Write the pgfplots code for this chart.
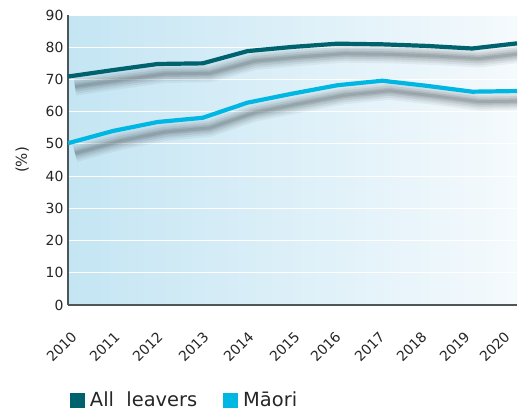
\documentclass[border=0pt]{standalone}
\usepackage{pgfplots}
\pgfplotsset{compat=1.18}
\usepackage{fontspec}
\setmainfont{DejaVu Sans}
\definecolor{allc}{HTML}{00626C}
\definecolor{maoric}{HTML}{00B6E2}
\definecolor{axc}{HTML}{505558}
\definecolor{bgl}{HTML}{C4E5F3}
\definecolor{bgr}{HTML}{F5FAFD}
\definecolor{shc}{HTML}{5A666C}
\pgfplotstableread{
year all maori
2010 70.9 50.2
2011 72.9 54.0
2012 74.8 56.8
2013 75.0 58.1
2014 78.8 62.8
2015 80.1 65.6
2016 81.1 68.2
2017 80.9 69.6
2018 80.4 68.0
2019 79.6 66.2
2020 81.2 66.4
}\datatable
\begin{document}
\begin{tikzpicture}
\begin{axis}[
  name=ax,
  scale only axis,
  width=449bp, height=290bp,
  xmin=2010, xmax=2020, ymin=0, ymax=90,
  xtick={2010.000,2010.958,2011.915,2012.940,2013.942,2014.967,2015.880,2016.860,2017.795,2018.753,2019.644},
  xticklabels={2010,2011,2012,2013,2014,2015,2016,2017,2018,2019,2020},
  ytick={0,10,...,90},
  axis x line*=bottom, axis y line*=left,
  axis line style={axc, line width=2.4bp, -},
  major tick length=0pt,
  ymajorgrids, grid style={white, line width=1.2bp},
  axis background/.style={left color=bgl, right color=bgr},
  /pgf/number format/assume math mode=true,
  /pgf/number format/1000 sep={},
  tick label style={font=\fontsize{14}{16}\selectfont, text=black!85},
  xticklabel style={rotate=45, anchor=east, xshift=-12.9bp, yshift=-25bp},
  yticklabel style={xshift=-1bp},
  ylabel={(\%)}, ylabel shift=10bp,
  ylabel style={font=\fontsize{15}{17}\selectfont, text=black!85},
  legend columns=2,
  legend style={at={(0.004,-0.328)}, anchor=west, draw=none, fill=none,
    font=\fontsize{19.5}{22}\selectfont, text=black!85, inner sep=0pt,
    /tikz/every odd column/.append style={column sep=3bp},
    /tikz/every even column/.append style={column sep=24bp}},
  legend image code/.code={\path[#1] (0bp,-7.5bp) rectangle (15bp,7.5bp);},
]
% shadows
\foreach \w/\o in {18/0.08, 14/0.10, 10/0.14, 6/0.18, 3/0.2} {
  \edef\tmp{\noexpand\addplot[forget plot, shc, opacity=\o, line width=\w bp, line join=round, xshift=7bp, yshift=-10bp] table[x=year,y=all] {\noexpand\datatable};}\tmp
  \edef\tmp{\noexpand\addplot[forget plot, shc, opacity=\o, line width=\w bp, line join=round, xshift=7bp, yshift=-10bp] table[x=year,y=maori] {\noexpand\datatable};}\tmp
}
\addplot[forget plot, allc, line width=4.2bp, line join=round] table[x=year,y=all] {\datatable};
\addplot[forget plot, maoric, line width=4.2bp, line join=round] table[x=year,y=maori] {\datatable};
\addlegendimage{fill=allc, draw=none}
\addlegendentry{All\ \ leavers}
\addlegendimage{fill=maoric, draw=none}
\addlegendentry{Māori}
\end{axis}
\pgfresetboundingbox
\path[use as bounding box] ([xshift=-68bp,yshift=-108bp]ax.south west) rectangle ([xshift=1bp,yshift=15bp]ax.north east);
\end{tikzpicture}
\end{document}
